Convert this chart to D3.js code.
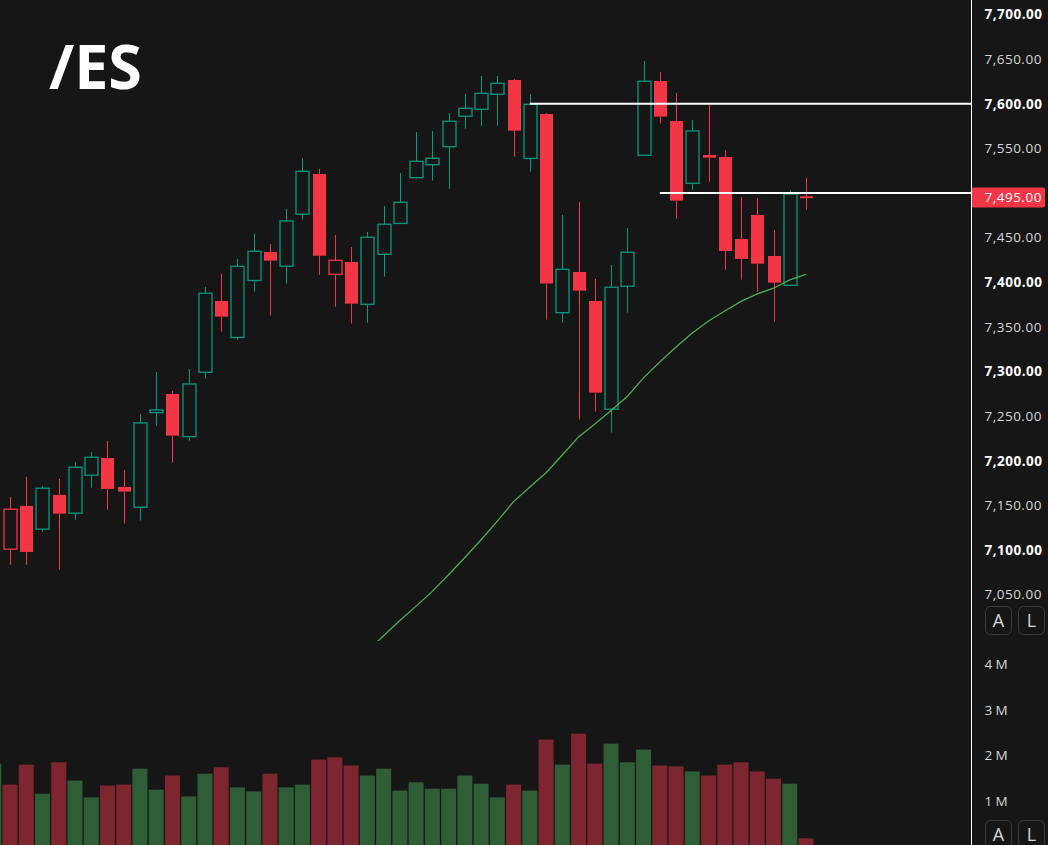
<!DOCTYPE html>
<html>
<head>
<meta charset="utf-8">
<script src="https://cdn.jsdelivr.net/npm/d3@7"></script>
<style>
  html, body { margin: 0; padding: 0; background: #161616; }
  svg { display: block; }
  text { font-family: "Open Sans", sans-serif; }
</style>
</head>
<body>
<div id="chart"></div>
<script>
// candle data, first entry sits just off the left edge (only its volume bar peeks in)
const opens  = [7130, 7100.9, 7149.4, 7123.3, 7161.7, 7141.2, 7183.8, 7203.1, 7170.6, 7147.9, 7253.9,
  7274.8, 7227, 7299.1, 7379, 7338.1, 7402, 7433.9, 7417.9, 7476.2, 7521.3,
  7408.9, 7422.7, 7375.3, 7431.3, 7465.9, 7517.2, 7531.7, 7551.9, 7586, 7593.8,
  7610.6, 7626.6, 7538.7, 7588.5, 7365.9, 7411.5, 7379, 7257.7, 7395.5, 7542.3,
  7625.5, 7580.7, 7510.9, 7542.6, 7540.4, 7448.5, 7475.4, 7429.4, 7396.6, 7495.5];
const highs  = [7175, 7159.4, 7181.9, 7171.8, 7179.6, 7198.7, 7209.9, 7222.2, 7189.7, 7252.4, 7299.5,
  7278.2, 7302.8, 7394.7, 7409.3, 7426.1, 7454.1, 7442.9, 7482.1, 7539.2, 7526.9,
  7453, 7439.5, 7456.3, 7485.5, 7522.4, 7568.4, 7569.5, 7589.6, 7610.9, 7631.1,
  7631.1, 7627.7, 7610.9, 7589.6, 7475.4, 7489.9, 7403.7, 7419.4, 7460.8, 7647.9,
  7635.6, 7612.1, 7581.8, 7598.6, 7548.2, 7495.5, 7494.4, 7458.6, 7503.4, 7516.8];
const lows   = [7120, 7083.3, 7083.3, 7120.6, 7078, 7134, 7169.9, 7145.2, 7129.5, 7132.9, 7239.3,
  7197.9, 7222.5, 7292, 7344.6, 7335.7, 7389.4, 7362.6, 7398.4, 7470.1, 7408.2,
  7372.6, 7353.6, 7354.7, 7406.3, 7465.9, 7516, 7513.8, 7504.8, 7572.1, 7575.4,
  7575.4, 7540.7, 7523.9, 7358.1, 7354.7, 7246, 7255, 7231.5, 7365.9, 7542.3,
  7577.7, 7471.2, 7503.7, 7512.7, 7414.1, 7402.9, 7389.4, 7355.8, 7396.6, 7481.3];
const closes = [7165, 7145.7, 7097.8, 7169.2, 7140.7, 7192.7, 7203.9, 7168.4, 7165.4, 7242.4, 7256.9,
  7228.1, 7286, 7387.7, 7361.4, 7417.9, 7434.7, 7424.2, 7468.7, 7524.3, 7429.7,
  7424.6, 7376, 7450.4, 7465, 7489.6, 7535.5, 7538.9, 7580.4, 7594.9, 7611.7,
  7622.9, 7569.8, 7599.4, 7398.6, 7414.5, 7390.6, 7276.3, 7394.4, 7433.6, 7625.2,
  7585.5, 7491.4, 7569.5, 7539.6, 7435, 7426.1, 7420.8, 7399.5, 7498.9, 7495];
const volumes = [1.82, 1.36, 1.80, 1.16, 1.85, 1.45, 1.08, 1.34, 1.36, 1.71, 1.25,
  1.56, 1.10, 1.60, 1.74, 1.30, 1.21, 1.60, 1.30, 1.36, 1.91,
  1.96, 1.78, 1.56, 1.71, 1.23, 1.41, 1.27, 1.27, 1.56, 1.38,
  1.08, 1.36, 1.23, 2.35, 1.80, 2.48, 1.82, 2.26, 1.85, 2.13,
  1.78, 1.76, 1.65, 1.56, 1.80, 1.85, 1.65, 1.49, 1.38, 0.18]; // millions

// moving average, starts at candle index maFrom
const maFrom = 23;
const maValues = [6987, 7004, 7020.9, 7037.1, 7053.6, 7072.3, 7091.6, 7111.5, 7132.3, 7154.2,
  7170.5, 7186.6, 7206.4, 7226.7, 7241.2, 7256.4, 7272, 7292.8, 7310.7, 7327.5,
  7343.2, 7356.6, 7367.8, 7378.5, 7386.9, 7393.3, 7402.6, 7408.9];

const lastPrice = 7495;
// the 7,500 label sits under the last price tag, so it is left out
const priceTicks = d3.range(7050, 7701, 50).filter(t => Math.abs(t - lastPrice) > 10);
const volumeTicks = [1, 2, 3, 4];
const levelLines = [{ price: 7600, from: 33 }, { price: 7500, from: 41 }];
const title = '/ES';

const W = 1048, H = 845;
const axisX = 971.5;
const priceBottom = 641;

const upColor = '#089981', downColor = '#f23645';
const volUp = '#2f5e36', volDown = '#7e2630';

const svg = d3.select('#chart').append('svg')
  .attr('width', W).attr('height', H)
  .style('background', '#161616');

const x = d3.scaleLinear().domain([1, 50]).range([10, 806]);
const y = d3.scaleLinear().domain([7050, 7700]).range([594.6, 14.5]);
const yVol = d3.scaleLinear().domain([0, 4]).range([846.5, 664.5]);

const bodyW = 13, barW = 15;

svg.append('clipPath').attr('id', 'priceClip')
  .append('rect').attr('x', 0).attr('y', 0).attr('width', axisX - 0.5).attr('height', priceBottom);
svg.append('clipPath').attr('id', 'volClip')
  .append('rect').attr('x', 0).attr('y', priceBottom + 2).attr('width', axisX - 0.5).attr('height', H - priceBottom);

const candles = opens.map((o, i) => ({
  i, o, h: highs[i], l: lows[i], c: closes[i], v: volumes[i],
  up: closes[i] >= (i === 0 ? o : closes[i - 1])
}));

// volume pane
svg.append('g').attr('clip-path', 'url(#volClip)')
  .selectAll('rect').data(candles).join('rect')
  .attr('x', d => x(d.i) - barW / 2)
  .attr('y', d => yVol(d.v))
  .attr('width', barW)
  .attr('height', d => yVol(0) - yVol(d.v))
  .attr('fill', d => d.up ? volUp : volDown);

// price pane (the off-screen candle is skipped)
const pane = svg.append('g').attr('clip-path', 'url(#priceClip)');

const cx = d => Math.round(x(d.i)) + 0.5;

const cg = pane.append('g').selectAll('g').data(candles.slice(1)).join('g')
  .attr('stroke', d => d.up ? upColor : downColor)
  .attr('fill', d => d.up ? upColor : downColor);

// upper and lower wick segments, kept outside the body so hollow candles stay hollow
cg.append('line')
  .attr('x1', cx).attr('x2', cx)
  .attr('y1', d => y(d.h)).attr('y2', d => y(Math.max(d.o, d.c)))
  .attr('stroke-width', 1);
cg.append('line')
  .attr('x1', cx).attr('x2', cx)
  .attr('y1', d => y(Math.min(d.o, d.c))).attr('y2', d => y(d.l))
  .attr('stroke-width', 1);

cg.append('rect')
  .attr('x', d => cx(d) - bodyW / 2)
  .attr('y', d => {
    const top = y(Math.max(d.o, d.c)), bot = y(Math.min(d.o, d.c));
    return bot - top < 2 ? (top + bot) / 2 - 1 : top;
  })
  .attr('width', bodyW)
  .attr('height', d => Math.max(2, y(Math.min(d.o, d.c)) - y(Math.max(d.o, d.c))))
  .attr('fill', d => d.c > d.o ? 'none' : (d.up ? upColor : downColor))
  .attr('stroke-width', d => d.c > d.o ? 1.3 : 0);

// moving average
const maLine = d3.line()
  .x((d, k) => x(maFrom + k))
  .y(d => y(d));
pane.append('path')
  .datum(maValues)
  .attr('d', maLine)
  .attr('fill', 'none')
  .attr('stroke', '#4caf50')
  .attr('stroke-width', 1.3);

// horizontal levels
svg.selectAll('.level').data(levelLines).join('line')
  .attr('class', 'level')
  .attr('x1', d => x(d.from)).attr('x2', axisX)
  .attr('y1', d => y(d.price)).attr('y2', d => y(d.price))
  .attr('stroke', '#ffffff').attr('stroke-width', 2);

// right price axis
const priceAxis = svg.append('g')
  .attr('transform', `translate(${axisX},0)`)
  .call(d3.axisRight(y).tickValues(priceTicks).tickSize(0).tickPadding(13)
    .tickFormat(d3.format(',.2f')));
priceAxis.select('.domain').remove();
priceAxis.selectAll('text')
  .attr('font-family', '"Open Sans", sans-serif')
  .attr('font-size', 13.5)
  .attr('letter-spacing', 0.5)
  .attr('font-weight', d => d % 100 === 0 ? 700 : 400)
  .attr('fill', d => d % 100 === 0 ? '#ffffff' : '#d6d6d6');

// volume axis
const volAxis = svg.append('g')
  .attr('transform', `translate(${axisX},0)`)
  .call(d3.axisRight(yVol).tickValues(volumeTicks).tickSize(0).tickPadding(13)
    .tickFormat(d => d + '\u2009M'));
volAxis.select('.domain').remove();
volAxis.selectAll('text')
  .attr('font-family', '"Open Sans", sans-serif')
  .attr('font-size', 13.5)
  .attr('letter-spacing', 0.5)
  .attr('fill', '#d6d6d6');

// last price tag
svg.append('rect')
  .attr('x', axisX).attr('y', y(lastPrice) - 10)
  .attr('width', 1045 - axisX).attr('height', 20)
  .attr('rx', 2)
  .attr('fill', downColor);
svg.append('text')
  .attr('x', axisX + 13).attr('y', y(lastPrice))
  .attr('dy', '0.35em')
  .attr('font-size', 13.5)
  .attr('letter-spacing', 0.5)
  .attr('fill', '#ffffff')
  .text(d3.format(',.2f')(lastPrice));

// axis line
svg.append('line')
  .attr('x1', axisX).attr('x2', axisX).attr('y1', 0).attr('y2', H)
  .attr('stroke', '#ffffff').attr('stroke-width', 1);

// A / L buttons
const buttons = [
  { label: 'A', x: 985, y: 606 }, { label: 'L', x: 1018, y: 606 },
  { label: 'A', x: 985, y: 820 }, { label: 'L', x: 1018, y: 820 }
];
const bg = svg.selectAll('.btn').data(buttons).join('g').attr('class', 'btn')
  .attr('transform', d => `translate(${d.x},${d.y})`);
bg.append('rect')
  .attr('x', 0.5).attr('y', 0.5).attr('width', 26).attr('height', 28).attr('rx', 5)
  .attr('fill', '#161616').attr('stroke', '#3c3c3c');
bg.append('text')
  .attr('x', 13.5).attr('y', 15)
  .attr('dy', '0.36em')
  .attr('text-anchor', 'middle')
  .attr('font-size', 18)
  .attr('fill', '#d6d6d6')
  .text(d => d.label);

// title
svg.append('text')
  .attr('x', 49).attr('y', 89)
  .attr('font-size', 61)
  .attr('font-weight', 700)
  .attr('fill', '#ffffff')
  .text(title);
</script>
</body>
</html>
